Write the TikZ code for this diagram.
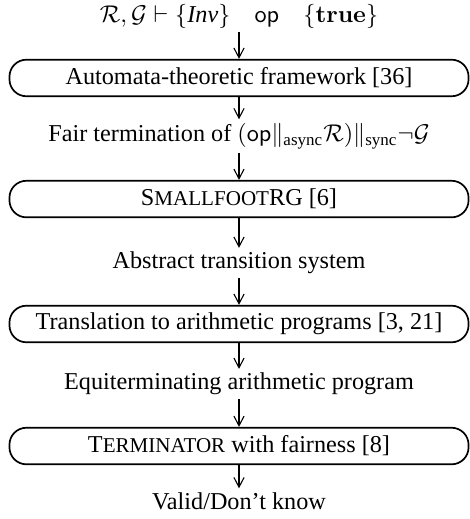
\documentclass[tikz,border=0pt]{standalone}
\usepackage{amsmath}
\usepackage[no-math]{fontspec}
\setmainfont{Liberation Serif}
\usepackage{tikz}
\usetikzlibrary{arrows.meta,positioning}

\newcommand{\smcap}[1]{{\fontsize{8.7pt}{8.7pt}\selectfont #1}}

\begin{document}
\begin{tikzpicture}[
      x=0.413pt, y=-0.413pt,
      step_box/.style={
         draw=black,
         rounded corners=7pt,
         line width=0.7pt,
         minimum width=189.6pt,
         minimum height=15.1pt,
         inner sep=0pt},
      step_text/.style={
         inner sep=1.5pt},
      arrow_down/.style={
         -{Straight Barb[length=4pt,width=4.2pt]},
         line width=0.45pt},
      on grid
]
      \useasboundingbox (0,0) rectangle (469,519);

      %input
      \node[step_text] (spec) at (239,16) {$\mathcal{R},\mathcal{G}\vdash\{\textit{Inv}\}\quad\mathsf{op}\quad\{\mathbf{true}\}$};

      \node[step_box,below=25.6pt of spec] (automata) {Automata-theoretic framework [36]};
      \node[step_text,below=24pt of automata] (fair) {Fair termination of $(\mathsf{op}\|_{\text{async}}\mathcal{R})\|_{\text{sync}}\neg\mathcal{G}$};

      \node[step_box,below=26pt of fair] (smallfoot) {S\smcap{MALLFOOT}RG [6]};
      \node[step_text,below=26.4pt of smallfoot] (abstract) {Abstract transition system};

      \node[step_box,below=25.2pt of abstract] (translation) {Translation to arithmetic programs [3, 21]};
      \node[step_text,below=24.8pt of translation] (arith) {Equiterminating arithmetic program};

      \node[step_box,below=25.6pt of arith] (terminator) {T\smcap{ERMINATOR} with fairness [8]};
      %result
      \node[step_text,below=22.7pt of terminator] (result) {Valid/Don't know};

    \foreach \i/\j in {% upper node/lower node
      spec/automata,
      automata/fair,
      fair/smallfoot,
      smallfoot/abstract,
      abstract/translation,
      translation/arith,
      arith/terminator,
      terminator/result}
      \draw [arrow_down] (\i) -- (\j);

\end{tikzpicture}
\end{document}
